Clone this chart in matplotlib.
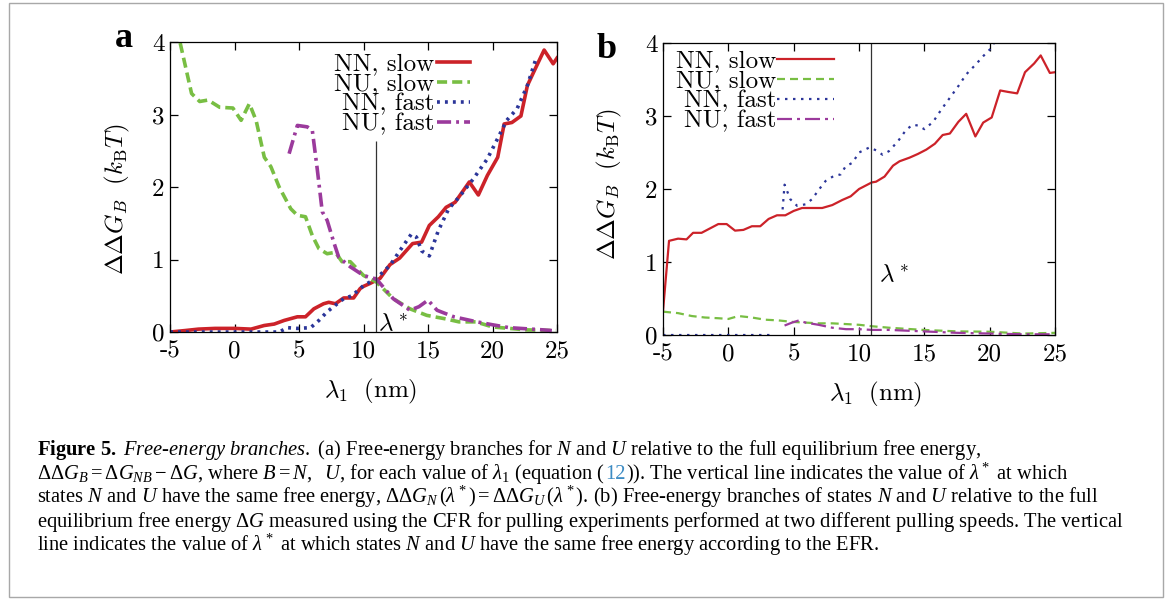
import numpy as np
import matplotlib
matplotlib.use('Agg')
import matplotlib.pyplot as plt
from matplotlib.patches import Rectangle

plt.rcParams['mathtext.fontset'] = 'cm'
plt.rcParams['mathtext.rm'] = 'Liberation Serif'
plt.rcParams['mathtext.it'] = 'Liberation Serif:italic'
plt.rcParams['mathtext.bf'] = 'Liberation Serif:bold'
plt.rcParams['axes.unicode_minus'] = False

# ---- data (lambda_1 in nm, ddG in kBT) ----
lam_star = 10.95

# panel a (EFR)
nn_slow_a_x = [-5, -3.85, -2.8, -1.5, 0, 1.28, 2.3, 3.08, 3.85, 4.87, 5.5, 6.15, 6.9, 7.3, 7.82,
               8.46, 9.23, 9.74, 10.0, 10.5, 11.28, 12.05, 12.8, 13.8, 14.5, 15.1, 15.8, 16.4,
               17.1, 18.2, 18.9, 19.6, 20.4, 20.9, 21.5, 22.2, 22.7, 23.2, 24.0, 24.7, 25.0]
nn_slow_a_y = [0, 0.02, 0.04, 0.05, 0.05, 0.04, 0.09, 0.11, 0.16, 0.21, 0.21, 0.32, 0.39, 0.41, 0.39,
               0.47, 0.47, 0.60, 0.63, 0.67, 0.74, 0.93, 1.02, 1.22, 1.24, 1.47, 1.59, 1.72,
               1.79, 2.07, 1.89, 2.16, 2.41, 2.87, 2.89, 2.98, 3.40, 3.59, 3.89, 3.70, 3.78]

nu_slow_a_x = [-4.6, -4.23, -3.33, -2.7, -2.05, -1.15, -0.13, 0.51, 1.15, 1.67, 2.31, 2.82, 3.46,
               4.36, 4.87, 5.5, 6.03, 6.54, 7.18, 7.82, 8.33, 8.97, 10.0, 11.0, 12.3, 13.6, 14.9,
               16.4, 17.4, 18.7, 20.0, 21.3, 22.6, 24.9]
nu_slow_a_y = [4.4, 4.0, 3.29, 3.18, 3.2, 3.1, 3.09, 2.92, 3.15, 2.92, 2.41, 2.28, 2.0,
               1.70, 1.61, 1.59, 1.33, 1.15, 1.08, 1.10, 0.97, 0.97, 0.78, 0.69, 0.46, 0.32, 0.23,
               0.18, 0.14, 0.14, 0.07, 0.05, 0.03, 0.02]

nn_fast_a_x = [-5, 3.46, 4.1, 4.87, 5.9, 6.54, 7.18, 7.82, 8.46, 9.1, 10.0, 11.0, 12.05, 13.0,
               13.7, 14.1, 14.5, 15.1, 15.8, 16.6, 17.4, 18.5, 19.6, 20.4, 21.1, 21.9, 22.7, 23.4]
nn_fast_a_y = [0, 0, 0.06, 0.05, 0.06, 0.16, 0.28, 0.37, 0.46, 0.50, 0.64, 0.74, 0.92, 1.17,
               1.35, 1.31, 1.12, 1.05, 1.40, 1.70, 1.86, 2.11, 2.39, 2.67, 2.92, 3.08, 3.40, 3.79]

nu_fast_a_x = [4.23, 4.87, 5.64, 6.03, 6.41, 6.8, 7.18, 7.69, 8.08, 8.97, 10.0, 11.0, 12.3, 13.6,
               14.3, 15.0, 15.7, 17.0, 18.8, 20.0, 21.3, 23.9, 24.6]
nu_fast_a_y = [2.46, 2.85, 2.83, 2.78, 2.25, 1.66, 1.54, 1.24, 1.03, 0.90, 0.78, 0.73, 0.46, 0.30,
               0.35, 0.44, 0.30, 0.21, 0.14, 0.10, 0.06, 0.03, 0.02]

# panel b (CFR)
nn_slow_b_x = [-5, -4.54, -3.85, -3.2, -2.7, -2.05, -1.41, -0.77, -0.13, 0.51, 1.15, 1.8, 2.44,
               3.08, 3.72, 4.36, 5.0, 5.64, 6.4, 7.18, 7.95, 8.72, 9.36, 10.0, 10.97, 11.3, 11.95,
               12.6, 13.1, 13.87, 14.5, 15.15, 15.8, 16.4, 16.95, 17.6, 18.2, 18.9, 19.5, 20.15,
               20.8, 21.4, 22.1, 22.7, 23.4, 23.9, 24.6, 25.0]
nn_slow_b_y = [0.33, 1.29, 1.32, 1.31, 1.40, 1.40, 1.46, 1.52, 1.52, 1.43, 1.44, 1.49, 1.49,
               1.59, 1.64, 1.64, 1.70, 1.74, 1.74, 1.74, 1.78, 1.85, 1.90, 2.0, 2.09, 2.10, 2.17,
               2.32, 2.38, 2.43, 2.48, 2.54, 2.62, 2.74, 2.76, 2.92, 3.03, 2.72, 2.91, 2.98,
               3.35, 3.33, 3.31, 3.60, 3.72, 3.83, 3.59, 3.60]

nu_slow_b_x = [-5, -3.85, -2.8, -1.8, -0.77, 0, 0.77, 1.8, 2.8, 3.85, 4.87, 5.9, 6.9, 7.95, 9.0,
               10.0, 11.0, 12.3, 14.9, 17.5, 20.0, 22.6, 25.0]
nu_slow_b_y = [0.32, 0.30, 0.26, 0.24, 0.23, 0.22, 0.26, 0.24, 0.21, 0.20, 0.18, 0.17, 0.16, 0.16,
               0.15, 0.14, 0.12, 0.10, 0.07, 0.05, 0.045, 0.02, 0.03]

nn_fast_b_x = [-5, 3.3, 3.8, 4.15, 4.3, 4.74, 5.26, 5.9, 6.4, 6.92, 7.44, 8.08, 8.6, 8.97, 9.5,
               10.0, 10.8, 11.3, 11.8, 12.3, 13.0, 13.6, 14.1, 14.5, 15.0, 15.67, 16.3, 16.95,
               17.6, 18.2, 18.9, 19.5, 20.0, 20.4, 20.8]
nn_fast_b_y = [0, 0, np.nan, 1.72, 2.06, 1.86, 1.77, 1.79, 1.86, 1.99, 2.11, 2.18, 2.20, 2.31, 2.36,
               2.50, 2.57, 2.53, 2.47, 2.52, 2.66, 2.81, 2.88, 2.87, 2.82, 2.92, 3.09, 3.25,
               3.41, 3.57, 3.70, 3.82, 3.91, 4.02, 4.15]

nu_fast_b_x = [4.3, 4.87, 5.4, 5.9, 6.9, 7.95, 9.0, 10.0, 11.0, 12.3, 13.6, 14.9, 17.5, 20.0,
               22.6, 24.9]
nu_fast_b_y = [0.13, 0.17, 0.20, 0.17, 0.14, 0.10, 0.08, 0.08, 0.07, 0.07, 0.06, 0.05, 0.03, 0.02,
               0.01, 0.01]

labels = ["NN, slow", "NU, slow", "NN, fast", "NU, fast"]
xticks = [-5, 0, 5, 10, 15, 20, 25]
yticks = [0, 1, 2, 3, 4]

RED = '#cc2229'
GREEN = '#78be43'
BLUE = '#2b3599'
PURPLE = '#9b3a9c'

TICKFONT = dict(fontfamily='cmr10', fontsize=18)


def style_axes(ax):
    ax.set_xlim(-5, 25)
    ax.set_ylim(0, 4)
    ax.set_xticks(xticks, labels=[str(t) for t in xticks], **TICKFONT)
    ax.set_yticks(yticks, labels=[str(t) for t in yticks], **TICKFONT)
    ax.tick_params(direction='in', top=True, right=True, length=5.8, width=0.9)
    ax.tick_params(axis='x', pad=6)
    ax.tick_params(axis='y', pad=4)
    for sp in ax.spines.values():
        sp.set_linewidth(0.9)
    ax.set_xlabel(r"$\lambda_1\ \ (\rm nm)$", fontsize=18)
    ax.set_ylabel(r"$\Delta\Delta G_B\ \ (k_{\rm B}T)$", fontsize=18)


fig = plt.figure(figsize=(11.71, 5.99), dpi=100)

# ---- panel a ----
ax1 = fig.add_axes([0.1452, 0.4457, 0.3305, 0.4841])
lw = 2.6
ax1.plot(nn_slow_a_x, nn_slow_a_y, color=RED, lw=lw, label=labels[0])
ax1.plot(nu_slow_a_x, nu_slow_a_y, color=GREEN, lw=lw, ls=(0, (2.8, 1.4)), label=labels[1])
ax1.plot(nn_fast_a_x, nn_fast_a_y, color=BLUE, lw=lw, ls=(0, (0.8, 1.4)), label=labels[2])
ax1.plot(nu_fast_a_x, nu_fast_a_y, color=PURPLE, lw=lw, ls=(0, (3.9, 1.4, 0.8, 1.4)), label=labels[3])
ax1.vlines(lam_star, 0, 2.64, color='#333333', lw=0.9)
ax1.text(11.1, 0.01, r"$\lambda^*$", fontsize=18, va='baseline')
style_axes(ax1)
ax1.xaxis.set_label_coords(0.517, -0.155)
ax1.yaxis.set_label_coords(-0.098, 0.459)
ax1.legend(loc='upper right', bbox_to_anchor=(0.775, 0.962), markerfirst=False, frameon=False,
           prop={'family': 'cmr10', 'size': 18}, handlelength=1.32, handletextpad=0.1,
           labelspacing=-0.1, borderpad=0, borderaxespad=0)

# ---- panel b ----
ax2 = fig.add_axes([0.5662, 0.4407, 0.3348, 0.4875])
lw = 1.6
ax2.plot(nn_slow_b_x, nn_slow_b_y, color=RED, lw=lw, label=labels[0])
ax2.plot(nu_slow_b_x, nu_slow_b_y, color=GREEN, lw=lw, ls=(0, (3.6, 2.25)), label=labels[1])
ax2.plot(nn_fast_b_x, nn_fast_b_y, color=BLUE, lw=lw, ls=(0, (1.1, 2.5)), label=labels[2])
ax2.plot(nu_fast_b_x, nu_fast_b_y, color=PURPLE, lw=lw, ls=(0, (6.75, 2.25, 1.35, 2.25)), label=labels[3])
ax2.axvline(lam_star, color='#333333', lw=0.9)
ax2.text(11.5, 0.72, r"$\lambda^*$", fontsize=18, va='baseline')
style_axes(ax2)
ax2.xaxis.set_label_coords(0.541, -0.154)
ax2.yaxis.set_label_coords(-0.0995, 0.517)
ax2.legend(loc='upper right', bbox_to_anchor=(0.436, 0.976), markerfirst=False, frameon=False,
           prop={'family': 'cmr10', 'size': 18}, handlelength=2.28, handletextpad=0.02,
           labelspacing=-0.1, borderpad=0, borderaxespad=0)

# panel letters
fig.text(115 / 1171, 1 - 47 / 599, "a", fontfamily='Liberation Serif', fontweight='bold',
         fontsize=26, va='baseline')
fig.text(597 / 1171, 1 - 58 / 599, "b", fontfamily='Liberation Serif', fontweight='bold',
         fontsize=26, va='baseline')

# ---- caption ----
cap = fig.add_axes([0, 0, 1, 1], zorder=-1)
cap.set_axis_off()
cap.add_patch(Rectangle((9 / 1171, 2 / 599), 1154 / 1171, 594 / 599, fill=False,
                        edgecolor='#a8a8a8', lw=1.0))

CAPFONT = dict(fontfamily='Liberation Serif', fontsize=14.8, va='baseline', math_fontfamily='custom')
x0 = 37 / 1171
base = [455, 479, 503, 527, 551]
ys = [1 - b / 599 for b in base]

cap.text(x0, ys[0], r"$\mathbf{Figure\ 5.}$$\mathit{\ Free}$-$\mathit{energy\ branches.}$ (a) "
         r"Free-energy branches for $N$ and $U$ relative to the full equilibrium free energy,", **CAPFONT)
t_pre = cap.text(x0, ys[1], r"$\Delta\Delta G_B = \Delta G_{NB} - \Delta G$, where $B = N,\ \ U$, "
                 r"for each value of $\lambda_1$ (equation (", **CAPFONT)
t12 = cap.annotate("12", xy=(1, ys[1]), xycoords=(t_pre, cap.transAxes), color='#3d8cc4', **CAPFONT)
cap.annotate(r")). The vertical line indicates the value of $\lambda^*$ at which", xy=(1, ys[1]),
             xycoords=(t12, cap.transAxes), **CAPFONT)
cap.text(x0, ys[2], r"states $N$ and $U$ have the same free energy, $\Delta\Delta G_N\,(\lambda^*) = "
         r"\Delta\Delta G_U\,(\lambda^*)$. (b) Free-energy branches of states $N$ and $U$ relative to the full",
         **CAPFONT)
cap.text(x0, ys[3], r"equilibrium free energy $\Delta G$ measured using the CFR for pulling experiments "
         r"performed at two different pulling speeds. The vertical", **CAPFONT)
cap.text(x0, ys[4], r"line indicates the value of $\lambda^*$ at which states $N$ and $U$ have the same "
         r"free energy according to the EFR.", **CAPFONT)

fig.savefig("out.png", dpi=100)
